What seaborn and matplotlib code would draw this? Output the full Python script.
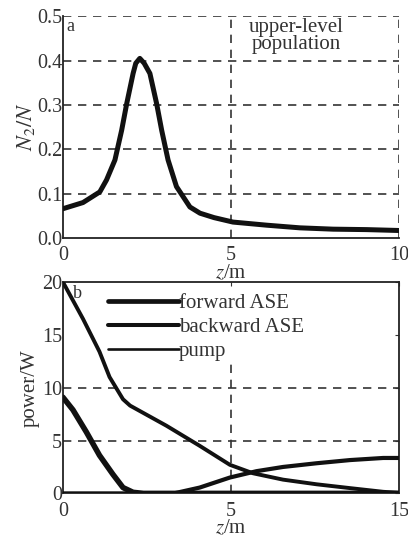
import numpy as np
import pandas as pd
import matplotlib
matplotlib.use("Agg")
import matplotlib.pyplot as plt
import seaborn as sns

# ---- data ----
# panel a: upper-level population N2/N vs z
za = [0.0, 0.6, 1.1, 1.3, 1.55, 1.75, 1.9, 2.09, 2.17, 2.29, 2.42, 2.59, 2.79, 2.94, 3.13,
      3.38, 3.78, 4.08, 4.5, 5.06, 6.06, 7.05, 8.04, 9.04, 10.0]
n2 = [0.066, 0.08, 0.104, 0.131, 0.176, 0.243, 0.303, 0.371, 0.394, 0.405, 0.394, 0.371, 0.303,
      0.243, 0.176, 0.116, 0.07, 0.056, 0.046, 0.036, 0.029, 0.023, 0.02, 0.019, 0.017]

# panel b: powers vs z (axis drawn 0..10 with labels 0, 5, 15 as in the source)
zp = [0.0, 0.6, 1.09, 1.39, 1.79, 2.0, 3.08, 4.07, 4.97, 5.66, 6.55, 7.55, 8.54, 9.53, 10.0]
pump = [20.0, 16.5, 13.4, 11.0, 8.9, 8.3, 6.4, 4.5, 2.7, 1.9, 1.3, 0.86, 0.5, 0.15, 0.05]

zb = [0.0, 0.3, 0.7, 1.09, 1.49, 1.79, 2.09, 2.4, 4.0, 6.0, 8.0, 10.0]
backward = [9.1, 7.9, 5.8, 3.6, 1.8, 0.55, 0.1, 0.0, 0.0, 0.0, 0.0, 0.0]

zf = [0.0, 2.0, 3.3, 4.07, 4.97, 5.76, 6.55, 7.55, 8.54, 9.53, 10.0]
forward = [0.0, 0.0, 0.0, 0.55, 1.5, 2.1, 2.5, 2.85, 3.15, 3.35, 3.35]

a_xticks = [0, 5, 10]
a_xticklabels = ["0", "5", "10"]
a_yticks = [0.0, 0.1, 0.2, 0.3, 0.4, 0.5]
b_xticks = [0, 5, 10]
b_xticklabels = ["0", "5", "15"]
b_yticks = [0, 5, 10, 15, 20]
series_names = ["forward ASE", "backward ASE", "pump"]

# ---- style ----
sns.set_style("white")
plt.rcParams["font.family"] = ["Liberation Serif", "DejaVu Serif"]
plt.rcParams["mathtext.fontset"] = "stix"
txt = "#333333"
fs = 15
tfs = 14.5

fig = plt.figure(figsize=(4.08, 5.41), dpi=100)
axa = fig.add_axes([0.154, 0.560, 0.824, 0.410])
axb = fig.add_axes([0.154, 0.088, 0.824, 0.391])

grid_kw = dict(color="#333333", lw=1.2, dashes=(5, 4), zorder=1)

# ---- panel a ----
dfa = pd.DataFrame({"z": za, "n2": n2})
sns.lineplot(data=dfa, x="z", y="n2", ax=axa, color="#111111", lw=3.6, zorder=3)
axa.set_xlim(0, 10)
axa.set_ylim(0, 0.5)
for y in a_yticks[1:]:
    axa.axhline(y, **grid_kw)
for x in a_xticks[1:]:
    axa.axvline(x, **grid_kw)
axa.spines["top"].set_visible(False)
axa.spines["right"].set_visible(False)
for s in ["left", "bottom"]:
    axa.spines[s].set_color("#222222")
    axa.spines[s].set_linewidth(1.3)
axa.set_xticks(a_xticks)
axa.set_xticklabels(a_xticklabels)
axa.set_yticks(a_yticks)
axa.set_yticklabels([f"{v:.1f}" for v in a_yticks])
axa.tick_params(axis="both", direction="in", length=3, labelsize=tfs, colors=txt)
axa.tick_params(axis="y", pad=0.5)
axa.tick_params(axis="x", pad=6)
axa.set_xlabel("$z$/m", fontsize=fs, color=txt, labelpad=-1)
axa.set_ylabel("$N_2/N$", fontsize=fs + 1, color=txt, labelpad=0)
axa.text(0.1, 0.497, "a", fontsize=13, color=txt, ha="left", va="top", zorder=5)
axa.text(6.95, 0.495, "upper-level\npopulation", fontsize=15, color=txt, ha="center",
         va="top", linespacing=0.8, zorder=5,
         bbox=dict(facecolor="white", edgecolor="none", pad=0.5))

# ---- panel b ----
dff = pd.DataFrame({"z": zf, "p": forward})
dfbk = pd.DataFrame({"z": zb, "p": backward})
dfp = pd.DataFrame({"z": zp, "p": pump})
axb.axhline(5, **grid_kw)
axb.axhline(10, **grid_kw)
axb.axvline(5, ymax=12.5 / 20, **grid_kw)
sns.lineplot(data=dff, x="z", y="p", ax=axb, color="#111111", lw=3.0, zorder=3,
             label=series_names[0])
sns.lineplot(data=dfbk, x="z", y="p", ax=axb, color="#111111", lw=4.0, zorder=3,
             label=series_names[1])
sns.lineplot(data=dfp, x="z", y="p", ax=axb, color="#111111", lw=2.8, zorder=3,
             label=series_names[2])
axb.set_xlim(0, 10)
axb.set_ylim(0, 20)
for s in axb.spines.values():
    s.set_color("#222222")
    s.set_linewidth(1.3)
axb.set_xticks(b_xticks)
axb.set_xticklabels(b_xticklabels)
axb.set_yticks(b_yticks)
axb.tick_params(axis="both", direction="in", length=3, labelsize=tfs, colors=txt,
                right=True, top=True)
axb.tick_params(axis="y", pad=0.5)
axb.tick_params(axis="x", pad=6)
axb.set_xlabel("$z$/m", fontsize=fs, color=txt, labelpad=-1)
axb.set_ylabel("power/W", fontsize=fs, color=txt, labelpad=2)
axb.text(0.3, 19.7, "b", fontsize=13, color=txt, ha="left", va="top", zorder=5)

handles, labels = axb.get_legend_handles_labels()
lw_leg = [3.4, 2.9, 1.9]
leg = axb.legend(handles, labels, loc="upper left", bbox_to_anchor=(0.135, 0.945),
                 frameon=False, fontsize=15, handlelength=3.4, handletextpad=0.0,
                 labelspacing=0.22, borderaxespad=0.0, borderpad=0.0)
for h, w in zip(leg.get_lines(), lw_leg):
    h.set_linewidth(w)
for t in leg.get_texts():
    t.set_color(txt)

fig.savefig("out.png", dpi=100)
